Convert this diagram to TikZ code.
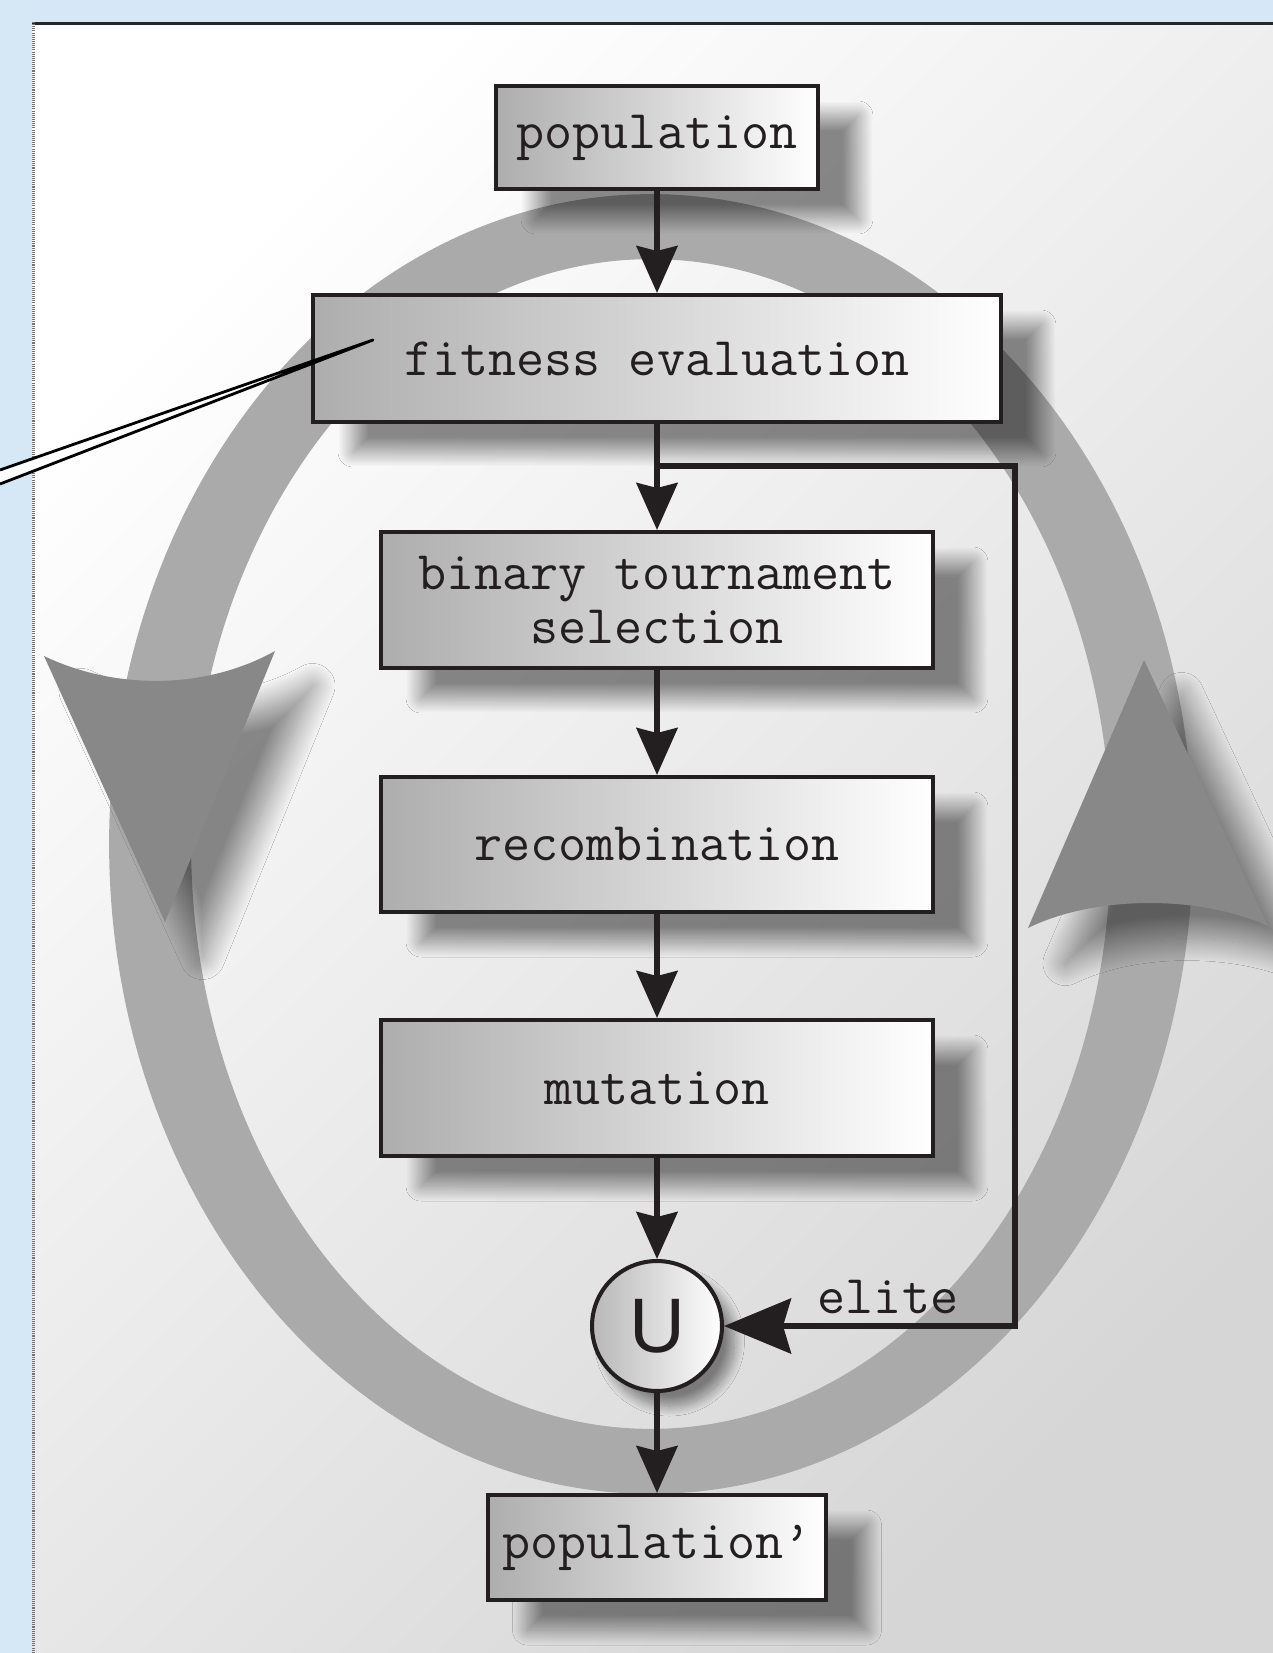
\documentclass[tikz,border=0pt]{standalone}
\usepackage{fontspec}
\newfontfamily\unionfont{Liberation Sans}
\usetikzlibrary{arrows.meta, shadows.blur}

\definecolor{bgblue}{RGB}{214,232,246}
\definecolor{ringgray}{RGB}{170,170,170}
\definecolor{headgray}{RGB}{136,136,136}
\definecolor{ink}{RGB}{35,31,32}
\newcommand{\boxfont}{\ttfamily\fontsize{31}{31.2}\selectfont}

\begin{document}
\begin{tikzpicture}[x=0.02cm, y=-0.02cm,
  stepbox/.style={draw=ink, line width=2.3pt, left color=black!32, right color=white,
    inner sep=0pt, font=\boxfont, text=ink, align=center,
    blur shadow={shadow xshift=0.8cm, shadow yshift=-0.6cm,
                 shadow blur radius=0.3cm, shadow blur steps=30, shadow opacity=45}},
  joinnode/.style={circle, draw=ink, line width=2.3pt, left color=black!28, right color=white,
    inner sep=0pt, minimum size=2.6cm, text=ink, font=\unionfont\fontsize{44}{44}\selectfont,
    blur shadow={shadow xshift=0.25cm, shadow yshift=-0.3cm,
                 shadow blur radius=0.2cm, shadow blur steps=20, shadow opacity=45}},
  conn/.style={draw=ink, line width=3.2pt},
  tip/.style={-{Stealth[length=0.94cm, width=0.82cm, inset=0.1cm]}},
  bigtip/.style={-{Stealth[length=1.34cm, width=1.1cm, inset=0.16cm]}},
  headshadow/.style={blur shadow={shadow xshift=0.75cm, shadow yshift=-0.7cm,
                 shadow blur radius=0.45cm, shadow blur steps=30, shadow opacity=45}}
]
% page and panel
\useasboundingbox (0,0) rectangle (1273,1653);
\fill[bgblue] (0,0) rectangle (1273,1653);
\shade[top color=white, bottom color=black!16, shading angle=45] (32,22) rectangle (1273,1653);
\draw[black!85, line width=1.7pt] (32,23.5) -- (1273,23.5);
\draw[black!55, line width=1.7pt, dash pattern=on 0.6pt off 0.6pt] (33.5,22) -- (33.5,1653);

% the cycle ring with its two direction heads
\fill[ringgray, even odd rule]
  (651,844) ellipse [x radius=10.84cm, y radius=13cm]
  (651,844) ellipse [x radius=9.2cm, y radius=11.7cm];
\fill[headgray, headshadow] (44,656) -- (165,922) -- (275,651)
  .. controls (205,690) and (115,690) .. (44,656) -- cycle;
\fill[headgray, headshadow] (1144,660) -- (1268,926)
  .. controls (1200,895) and (1095,895) .. (1028,928) -- cycle;

% flow steps
\node[stepbox, minimum width=6.44cm, minimum height=2.06cm] (pop) at (657,137.5) {population};
\node[stepbox, minimum width=13.76cm, minimum height=2.54cm] (fit) at (657,358.5) {fitness evaluation};
\node[stepbox, minimum width=11.04cm, minimum height=2.72cm] (sel) at (657,600) {binary tournament\\selection};
\node[stepbox, minimum width=11.04cm, minimum height=2.7cm] (rec) at (657,844.5) {recombination};
\node[stepbox, minimum width=11.04cm, minimum height=2.72cm] (mut) at (657,1088) {mutation};
\node[joinnode] (uni) at (657,1326) {U};
\node[stepbox, minimum width=6.78cm, minimum height=2.1cm] (newpop) at (657,1547.5) {population’};
\node[font=\boxfont, text=ink, inner sep=0pt] (elite) at (888,1297) {elite};

% connectors
\draw[conn, tip] (pop.south) -- (fit.north);
\draw[conn, tip] (fit.south) -- (sel.north);
\draw[conn, tip] (sel.south) -- (rec.north);
\draw[conn, tip] (rec.south) -- (mut.north);
\draw[conn, tip] (mut.south) -- (uni.north);
\draw[conn, tip] (uni.south) -- (newpop.north);
\coordinate (branch) at (657,466);
\coordinate (elitecorner) at (1015,466);
\draw[conn, bigtip] (branch) -- (elitecorner) |- (uni.east);

% pointer into the fitness box
\coordinate (pointer) at (373,340);
\filldraw[fill=white, draw=black, line width=1.6pt, line join=round]
  (0,470) -- (pointer) -- (0,484);
\end{tikzpicture}
\end{document}
